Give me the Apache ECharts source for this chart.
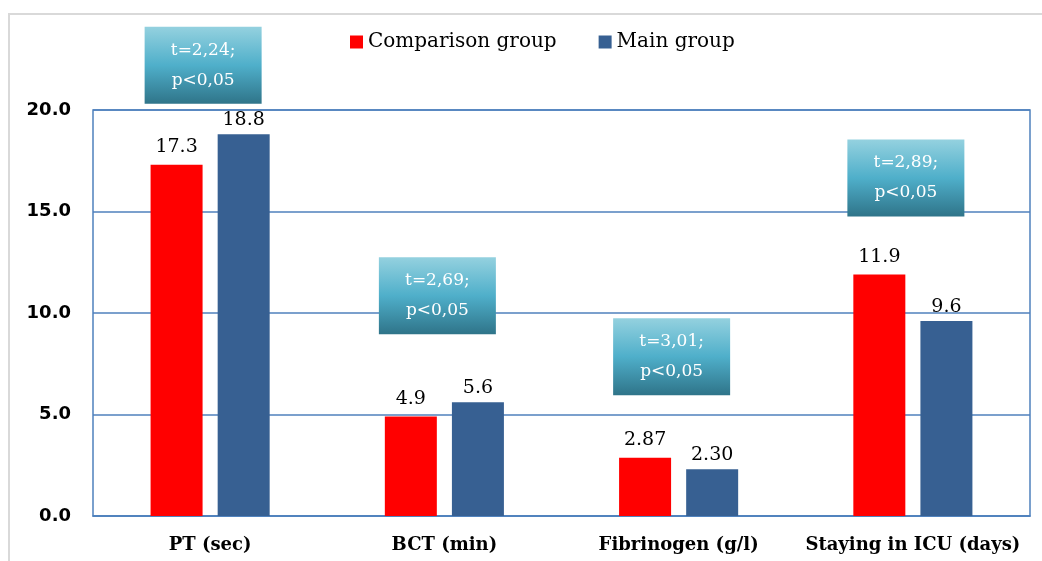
<!DOCTYPE html>
<html>
<head>
<meta charset="utf-8">
<script src="https://cdn.jsdelivr.net/npm/echarts@6/dist/echarts.min.js"></script>
<style>
  html, body { margin: 0; padding: 0; background: #fff; }
  #chart { width: 1042px; height: 561px; }
</style>
</head>
<body>
<div id="chart"></div>
<script>
const categories = ["PT (sec)", "BCT (min)", "Fibrinogen (g/l)", "Staying in ICU (days)"];
const comparisonGroup = [17.3, 4.9, 2.87, 11.9];
const mainGroup = [18.8, 5.6, 2.30, 9.6];
const valueLabels = [["17.3", "4.9", "2.87", "11.9"], ["18.8", "5.6", "2.30", "9.6"]];
// annotation boxes: text and the value level of their centre
const annotText = ["t=2,24;\np<0,05", "t=2,69;\np<0,05", "t=3,01;\np<0,05", "t=2,89;\np<0,05"];
const annotLevel = [22.2, 10.85, 7.85, 16.65];

const chart = echarts.init(document.getElementById("chart"));
const serif = "DejaVu Serif";

const option = {
  animation: false,
  legend: {
    left: 345,
    top: 27,
    icon: "rect",
    itemWidth: 13,
    itemHeight: 13,
    itemGap: 42,
    itemStyle: { borderWidth: 0 },
    textStyle: { fontFamily: serif, fontSize: 20, color: "#000" }
  },
  grid: {
    left: 93, top: 110, right: 12, bottom: 45,
    show: true,
    borderColor: "#4f81bd",
    borderWidth: 1.5
  },
  xAxis: {
    type: "category",
    data: categories,
    axisLine: { lineStyle: { color: "#4f81bd", width: 1.5 } },
    axisTick: { show: false },
    axisLabel: {
      interval: 0,
      margin: 20,
      fontFamily: serif, fontWeight: "bold", fontSize: 18, color: "#000"
    }
  },
  yAxis: {
    type: "value",
    min: 0, max: 20, interval: 5,
    axisLine: { show: false },
    axisTick: { show: false },
    splitLine: { lineStyle: { color: "#4f81bd", width: 1.5 } },
    axisLabel: {
      margin: 22,
      formatter: v => v.toFixed(1),
      fontFamily: "DejaVu Sans", fontWeight: "bold", fontSize: 18, color: "#000"
    }
  },
  series: [
    {
      name: "Comparison group",
      type: "bar",
      data: comparisonGroup,
      barWidth: 52,
      barGap: "29%",
      itemStyle: { color: "#ff0000" },
      label: {
        show: true, position: "top", distance: 8,
        formatter: p => valueLabels[0][p.dataIndex],
        fontFamily: serif, fontSize: 19, color: "#000"
      }
    },
    {
      name: "Main group",
      type: "bar",
      data: mainGroup,
      barWidth: 52,
      itemStyle: { color: "#376092" },
      label: {
        show: true, position: "top", distance: 5,
        formatter: p => valueLabels[1][p.dataIndex],
        fontFamily: serif, fontSize: 19, color: "#000"
      }
    }
  ]
};
chart.setOption(option);

const boxW = 117, boxH = 77;
const graphics = [{
  type: "rect",
  silent: true,
  z: -1,
  shape: { x: 9, y: 14, width: 1200, height: 700 },
  style: { fill: "none", stroke: "#d9d9d9", lineWidth: 2 }
}];
annotText.forEach((t, i) => {
  const [cx, cy] = chart.convertToPixel({ xAxisIndex: 0, yAxisIndex: 0 }, [i, annotLevel[i]]);
  const x = cx - 7 - boxW / 2, y = cy - boxH / 2;
  graphics.push({
    type: "rect",
    shape: { x, y, width: boxW, height: boxH },
    style: {
      fill: new echarts.graphic.LinearGradient(0, 0, 0, 1, [
        { offset: 0, color: "#94d1df" },
        { offset: 0.5, color: "#4fafca" },
        { offset: 1, color: "#2f7489" }
      ])
    },
    z: 10
  });
  graphics.push({
    type: "text",
    x: x + boxW / 2, y: y + boxH / 2,
    style: {
      text: t, fill: "#ffffff", font: "17px " + serif,
      align: "center", verticalAlign: "middle", lineHeight: 30
    },
    z: 11
  });
});
chart.setOption({ graphic: graphics });
</script>
</body>
</html>
